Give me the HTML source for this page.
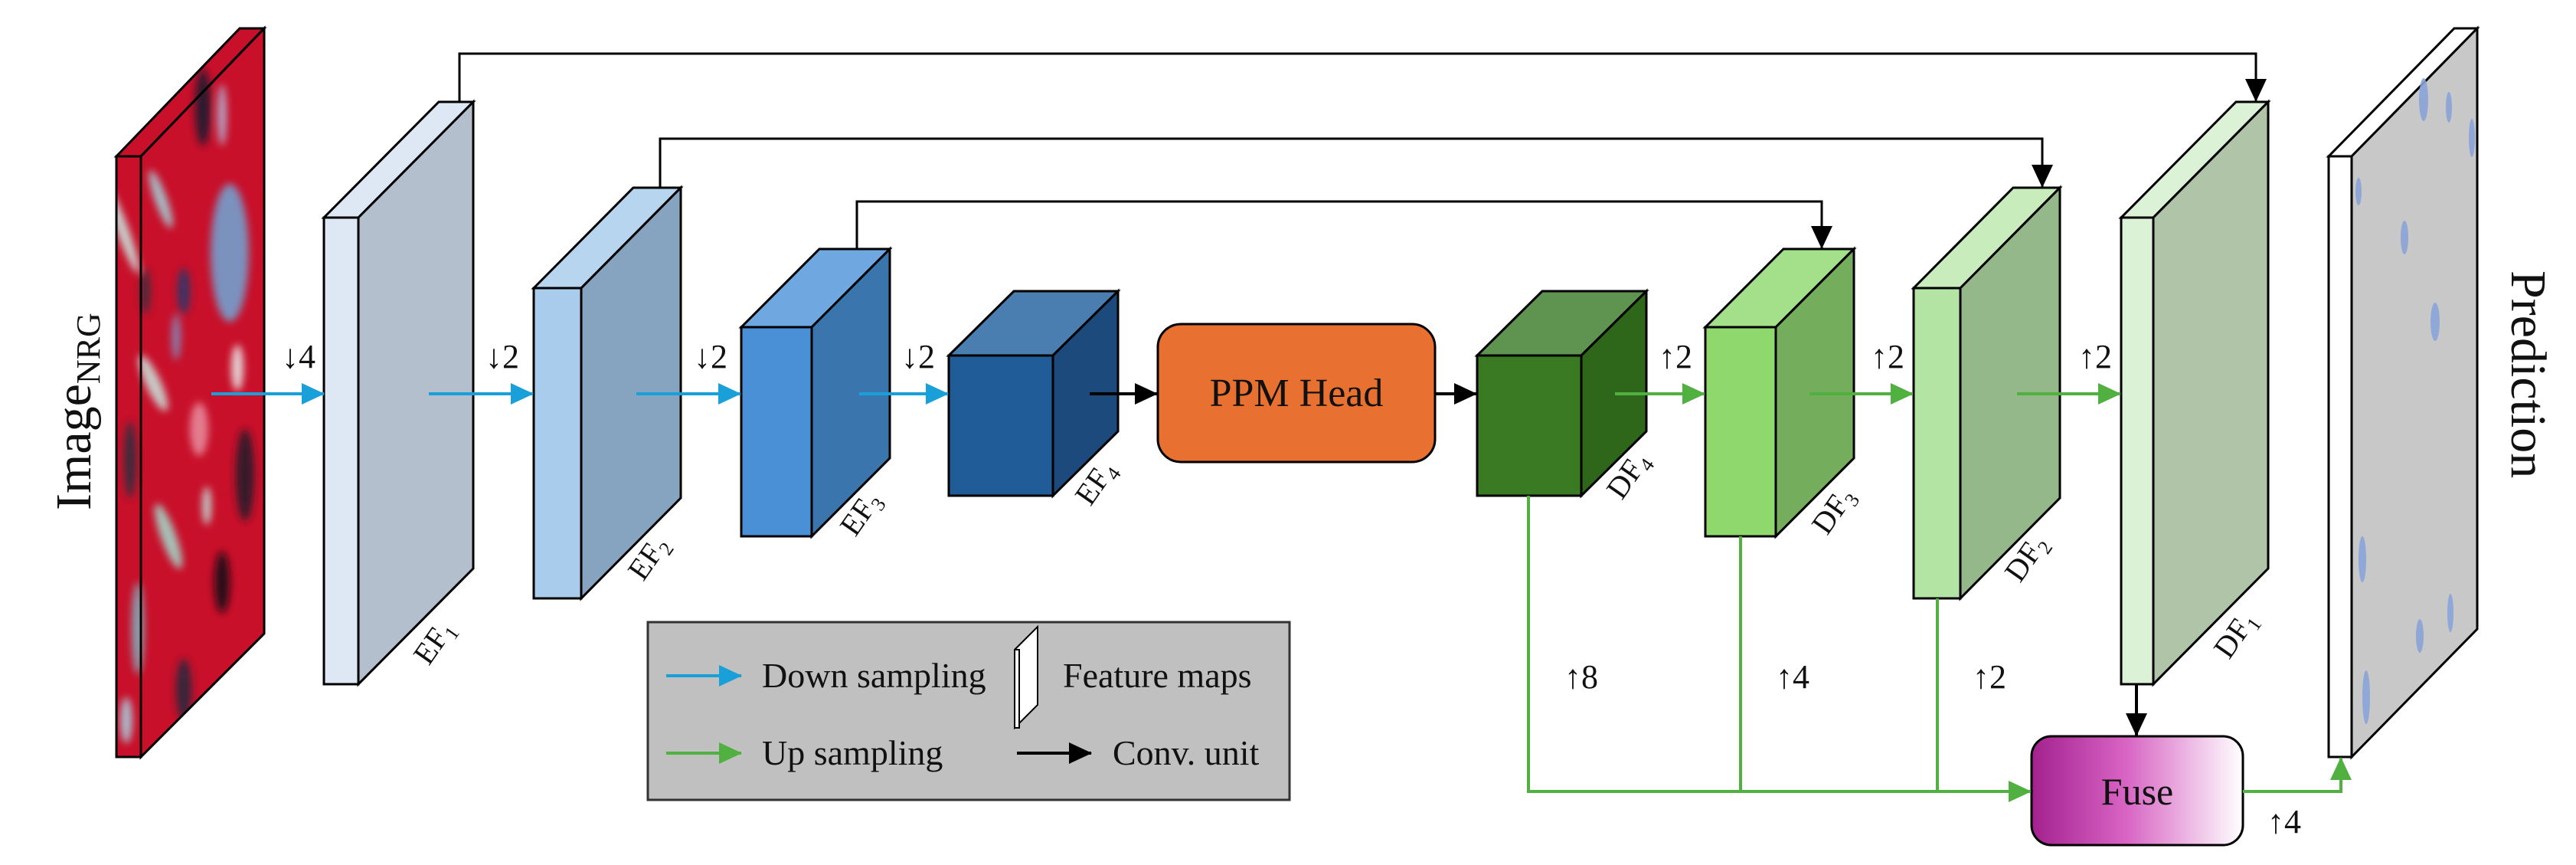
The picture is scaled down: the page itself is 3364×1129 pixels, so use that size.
<!DOCTYPE html>
<html><head><meta charset="utf-8"><style>
html,body{margin:0;padding:0;background:#fff;}
svg{display:block;}
text{font-family:"Liberation Serif",serif;fill:#111;}
</style></head><body>
<svg width="3364" height="1129" viewBox="0 0 3364 1129" xmlns="http://www.w3.org/2000/svg">
<defs>
<marker id="ab" markerWidth="30" markerHeight="28" refX="29" refY="14" orient="auto" markerUnits="userSpaceOnUse" viewBox="0 0 30 28"><path d="M0,0 L30,14 L0,28 z" fill="#1aa0d8"/></marker>
<marker id="ag" markerWidth="30" markerHeight="28" refX="29" refY="14" orient="auto" markerUnits="userSpaceOnUse" viewBox="0 0 30 28"><path d="M0,0 L30,14 L0,28 z" fill="#50b040"/></marker>
<marker id="ak" markerWidth="30" markerHeight="28" refX="29" refY="14" orient="auto" markerUnits="userSpaceOnUse" viewBox="0 0 30 28"><path d="M0,0 L30,14 L0,28 z" fill="#000"/></marker>
<linearGradient id="fuse" x1="0" x2="1" y1="0" y2="0"><stop offset="0" stop-color="#a3218f"/><stop offset="0.45" stop-color="#d865c4"/><stop offset="1" stop-color="#fff"/></linearGradient>
<clipPath id="imgclip"><polygon points="152,204 313,37 345,37 345,827 184,988 152,988"/></clipPath>
<filter id="blur"><feGaussianBlur stdDeviation="5"/></filter>
</defs>

<!-- Input image -->
<g clip-path="url(#imgclip)">
<rect x="140" y="30" width="220" height="970" fill="#c8102a"/>
<g opacity="0.85" filter="url(#blur)">
<ellipse cx="160" cy="300" rx="8" ry="60" fill="#c8f0e8" transform="rotate(-20 160 300)"/>
<ellipse cx="210" cy="260" rx="8" ry="40" fill="#a0d8e0" transform="rotate(-20 210 260)"/>
<ellipse cx="265" cy="140" rx="10" ry="50" fill="#0a1a30"/>
<ellipse cx="300" cy="330" rx="25" ry="90" fill="#6ea8d8"/>
<ellipse cx="240" cy="380" rx="8" ry="30" fill="#1a3a70"/>
<ellipse cx="200" cy="500" rx="10" ry="40" fill="#c8e8e0" transform="rotate(-25 200 500)"/>
<ellipse cx="290" cy="150" rx="6" ry="40" fill="#b0c0e0"/>
<ellipse cx="170" cy="600" rx="8" ry="50" fill="#203040"/>
<ellipse cx="260" cy="560" rx="12" ry="35" fill="#e890a0"/>
<ellipse cx="320" cy="620" rx="12" ry="60" fill="#1a1a2a"/>
<ellipse cx="220" cy="700" rx="10" ry="45" fill="#a0e0d0" transform="rotate(-20 220 700)"/>
<ellipse cx="180" cy="820" rx="8" ry="60" fill="#7abcc8"/>
<ellipse cx="290" cy="760" rx="10" ry="40" fill="#0a0a18"/>
<ellipse cx="240" cy="900" rx="10" ry="40" fill="#1a2a40"/>
<ellipse cx="165" cy="940" rx="8" ry="30" fill="#a8d8e8"/>
<ellipse cx="230" cy="440" rx="6" ry="30" fill="#8090c0"/>
<ellipse cx="310" cy="480" rx="8" ry="30" fill="#e8f0f0"/>
<ellipse cx="190" cy="380" rx="6" ry="30" fill="#2a3040"/>
<ellipse cx="270" cy="660" rx="6" ry="25" fill="#c0e8e0"/>
</g>
</g>
<polygon points="152,204 313,37 345,37 184,204" fill="none" stroke="#000" stroke-width="3"/>
<polygon points="184,204 345,37 345,827 184,988" fill="none" stroke="#000" stroke-width="3"/>
<rect x="152" y="204" width="32" height="784" fill="none" stroke="#000" stroke-width="3"/>

<!-- Skip connections -->
<g stroke="#000" stroke-width="3" fill="none">
<polyline points="600,133 600,70 2946,70 2946,132" marker-end="url(#ak)"/>
<polyline points="862,245 862,181 2667,181 2667,244" marker-end="url(#ak)"/>
<polyline points="1119,325 1119,263 2379,263 2379,324" marker-end="url(#ak)"/>
</g>

<!-- Boxes -->
<g stroke="#000" stroke-width="3" stroke-linejoin="miter">
<polygon points="423,284 573,133 618,133 468,284" fill="#dde8f4"/>
<polygon points="468,284 618,133 618,742 468,893" fill="#b3bfcc"/>
<rect x="423" y="284" width="45" height="609" fill="#dde8f4"/>
<polygon points="697,376 827,245 889,245 759,376" fill="#b8d5f0"/>
<polygon points="759,376 889,245 889,650 759,781" fill="#86a4c0"/>
<rect x="697" y="376" width="62" height="405" fill="#a9cbec"/>
<polygon points="968,427 1070,325 1162,325 1060,427" fill="#6fa8e0"/>
<polygon points="1060,427 1162,325 1162,598 1060,700" fill="#3a75ae"/>
<rect x="968" y="427" width="92" height="273" fill="#4a90d6"/>
<polygon points="1239,464 1324,380 1460,380 1375,464" fill="#4a7db0"/>
<polygon points="1375,464 1460,380 1460,563 1375,647" fill="#1c4a7c"/>
<rect x="1239" y="464" width="136" height="183" fill="#205c98"/>
<polygon points="1929,464 2014,380 2150,380 2065,464" fill="#5e9450"/>
<polygon points="2065,464 2150,380 2150,563 2065,647" fill="#2e661a"/>
<rect x="1929" y="464" width="136" height="183" fill="#3a7a22"/>
<polygon points="2227,427 2329,325 2421,325 2319,427" fill="#a4e08a"/>
<polygon points="2319,427 2421,325 2421,598 2319,700" fill="#74ae5c"/>
<rect x="2227" y="427" width="92" height="273" fill="#8ed86e"/>
<polygon points="2499,376 2629,245 2690,245 2560,376" fill="#c8ecbc"/>
<polygon points="2560,376 2690,245 2690,650 2560,781" fill="#94b88a"/>
<rect x="2499" y="376" width="61" height="405" fill="#b4e4a4"/>
<polygon points="2770,284 2920,133 2962,133 2812,284" fill="#dcf2d6"/>
<polygon points="2812,284 2962,133 2962,742 2812,893" fill="#b0c4a8"/>
<rect x="2770" y="284" width="42" height="609" fill="#dcf2d6"/>
<polygon points="3041,204 3205,37 3235,37 3071,204" fill="#fff"/>
<polygon points="3071,204 3235,37 3235,821 3071,988" fill="#c8c8c8"/>
<rect x="3041" y="204" width="30" height="784" fill="#fff"/>
</g>
<g fill="#8aa4d8" opacity="0.9">
<ellipse cx="3165" cy="130" rx="6" ry="28"/>
<ellipse cx="3198" cy="140" rx="4" ry="20"/>
<ellipse cx="3228" cy="180" rx="4" ry="25"/>
<ellipse cx="3080" cy="250" rx="4" ry="18"/>
<ellipse cx="3140" cy="310" rx="5" ry="22"/>
<ellipse cx="3180" cy="420" rx="6" ry="25"/>
<ellipse cx="3085" cy="730" rx="5" ry="30"/>
<ellipse cx="3200" cy="800" rx="4" ry="25"/>
<ellipse cx="3160" cy="830" rx="5" ry="22"/>
<ellipse cx="3090" cy="910" rx="5" ry="35"/>
</g>

<rect x="1512" y="423" width="362" height="180" rx="30" ry="30" fill="#e87030" stroke="#000" stroke-width="3"/>
<text x="1693" y="530" font-size="52" text-anchor="middle">PPM Head</text>

<rect x="2653" y="961" width="276" height="142" rx="26" ry="26" fill="url(#fuse)" stroke="#000" stroke-width="3"/>
<text x="2791" y="1050" font-size="50" text-anchor="middle">Fuse</text>

<g stroke="#1aa0d8" stroke-width="4" fill="none">
<line x1="276" y1="514" x2="423" y2="514" marker-end="url(#ab)"/>
<line x1="560" y1="514" x2="696" y2="514" marker-end="url(#ab)"/>
<line x1="831" y1="514" x2="967" y2="514" marker-end="url(#ab)"/>
<line x1="1122" y1="514" x2="1238" y2="514" marker-end="url(#ab)"/>
</g>
<g stroke="#000" stroke-width="4" fill="none">
<line x1="1423" y1="514" x2="1511" y2="514" marker-end="url(#ak)"/>
<line x1="1874" y1="514" x2="1928" y2="514" marker-end="url(#ak)"/>
<line x1="2790" y1="893" x2="2790" y2="960" marker-end="url(#ak)"/>
</g>
<g stroke="#50b040" stroke-width="4" fill="none">
<line x1="2109" y1="514" x2="2226" y2="514" marker-end="url(#ag)"/>
<line x1="2363" y1="514" x2="2498" y2="514" marker-end="url(#ag)"/>
<line x1="2634" y1="514" x2="2769" y2="514" marker-end="url(#ag)"/>
<polyline points="1996,647 1996,1033 2652,1033" marker-end="url(#ag)"/>
<line x1="2273" y1="700" x2="2273" y2="1033"/>
<line x1="2530" y1="781" x2="2530" y2="1033"/>
<polyline points="2929,1033 3057,1033 3057,989" marker-end="url(#ag)"/>
</g>

<g font-size="44">
<text x="368" y="480">↓4</text>
<text x="634" y="480">↓2</text>
<text x="906" y="480">↓2</text>
<text x="1177" y="480">↓2</text>
<text x="2166" y="480">↑2</text>
<text x="2443" y="480">↑2</text>
<text x="2714" y="480">↑2</text>
<text x="2043" y="898">↑8</text>
<text x="2319" y="898">↑4</text>
<text x="2576" y="898">↑2</text>
<text x="2961" y="1087">↑4</text>
</g>

<g font-size="40">
<text transform="translate(560,870) rotate(-55)">EF<tspan font-size="26" dy="8">1</tspan></text>
<text transform="translate(840,760) rotate(-55)">EF<tspan font-size="26" dy="8">2</tspan></text>
<text transform="translate(1117,702) rotate(-55)">EF<tspan font-size="26" dy="8">3</tspan></text>
<text transform="translate(1424,662) rotate(-55)">EF<tspan font-size="26" dy="8">4</tspan></text>
<text transform="translate(2118,654) rotate(-55)">DF<tspan font-size="26" dy="8">4</tspan></text>
<text transform="translate(2386,700) rotate(-55)">DF<tspan font-size="26" dy="8">3</tspan></text>
<text transform="translate(2638,762) rotate(-55)">DF<tspan font-size="26" dy="8">2</tspan></text>
<text transform="translate(2911,862) rotate(-55)">DF<tspan font-size="26" dy="8">1</tspan></text>
</g>

<text transform="translate(118,666) rotate(-90)" font-size="66">Image<tspan font-size="44" dy="12">NRG</tspan></text>
<text transform="translate(3280,353) rotate(90)" font-size="66">Prediction</text>

<rect x="846" y="812" width="838" height="232" fill="#c0c0c0" stroke="#333" stroke-width="3"/>
<line x1="870" y1="882" x2="968" y2="882" stroke="#1aa0d8" stroke-width="4" marker-end="url(#ab)"/>
<text x="995" y="897" font-size="46">Down sampling</text>
<polygon points="1325,848 1355,818 1355,920 1325,950" fill="#fff" stroke="#000" stroke-width="2"/>
<rect x="1325" y="848" width="6" height="102" fill="#fff" stroke="#000" stroke-width="2"/>
<text x="1388" y="897" font-size="46">Feature maps</text>
<line x1="870" y1="983" x2="968" y2="983" stroke="#50b040" stroke-width="4" marker-end="url(#ag)"/>
<text x="995" y="998" font-size="46">Up sampling</text>
<line x1="1328" y1="983" x2="1425" y2="983" stroke="#000" stroke-width="4" marker-end="url(#ak)"/>
<text x="1453" y="998" font-size="46">Conv. unit</text>
</svg>
</body></html>
